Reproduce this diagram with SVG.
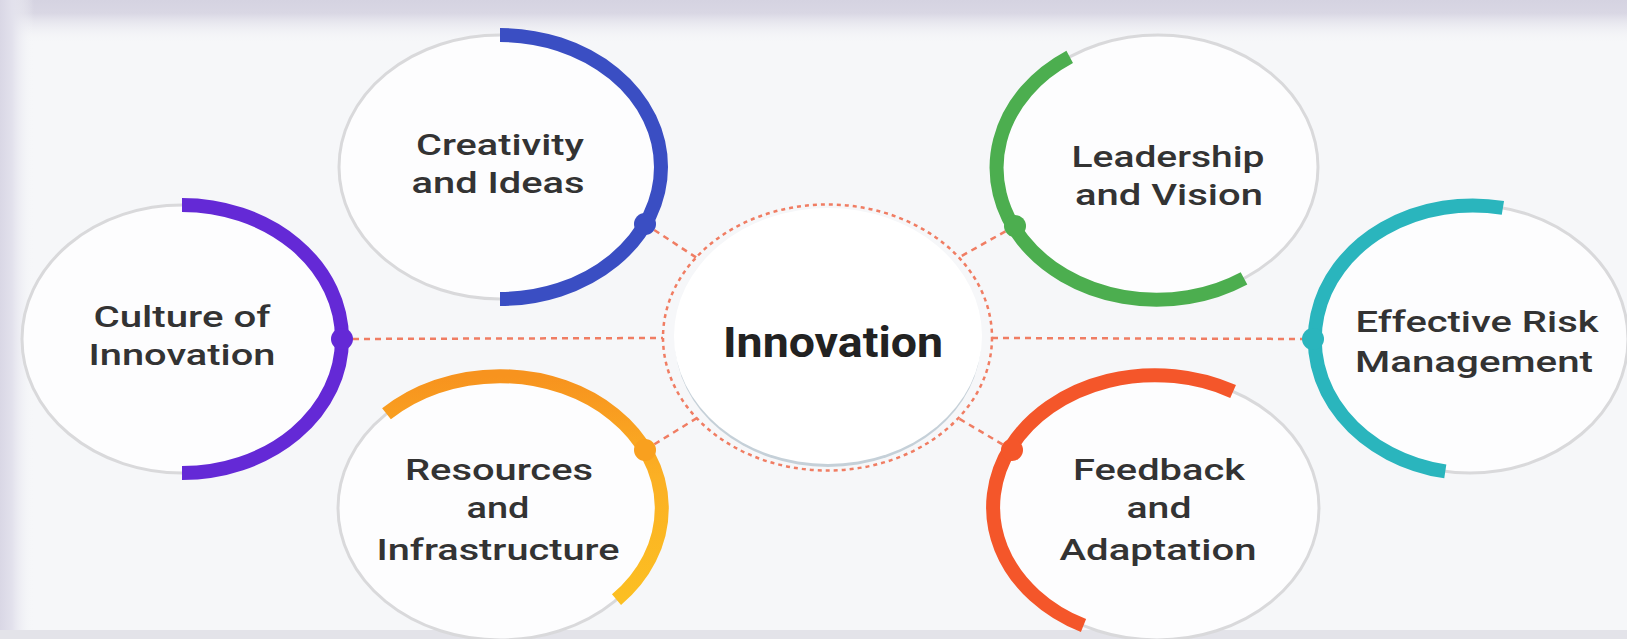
<svg xmlns="http://www.w3.org/2000/svg" width="1627" height="639" viewBox="0 0 1627 639">
<defs>
<linearGradient id="topg" x1="0" y1="0" x2="0" y2="1"><stop offset="0" stop-color="#d5d3e1"/><stop offset="0.3" stop-color="#d9d7e4"/><stop offset="1" stop-color="#f6f7f9" stop-opacity="0"/></linearGradient>
<linearGradient id="leftg" x1="0" y1="0" x2="1" y2="0"><stop offset="0" stop-color="#d9d7e5"/><stop offset="0.35" stop-color="#e2e1ec"/><stop offset="1" stop-color="#f6f7f9" stop-opacity="0"/></linearGradient>
<linearGradient id="orangeg" x1="0" y1="0" x2="0" y2="1"><stop offset="0" stop-color="#f7931e"/><stop offset="0.45" stop-color="#fbb024"/><stop offset="1" stop-color="#fcbf22"/></linearGradient>
<linearGradient id="shadowg" x1="0" y1="0" x2="0" y2="1"><stop offset="0.6" stop-color="#ffffff" stop-opacity="0"/><stop offset="1" stop-color="#b9c6cf"/></linearGradient>
<style>
.ring{fill:#fdfdfe;stroke:#d9d9db;stroke-width:3}
.arc{fill:none;stroke-width:14;stroke-linecap:butt}
.lbl{font-family:Roboto,"Liberation Sans",Arial,sans-serif;font-weight:500;font-size:30px;fill:#333333;text-anchor:middle}
.conn{stroke:#f07d63;stroke-width:2.5;stroke-dasharray:6 5;fill:none}
</style>
</defs>
<rect x="0" y="0" width="1627" height="639" fill="#f6f7f9"/>
<rect x="0" y="0" width="1627" height="44" fill="url(#topg)"/>
<rect x="0" y="0" width="34" height="639" fill="url(#leftg)"/>
<rect x="0" y="630" width="1627" height="9" fill="#e3e3e9"/>

<g id="connectors">
<line class="conn" x1="342" y1="339" x2="663" y2="338"/>
<line class="conn" x1="992" y1="338" x2="1313" y2="339"/>
<line class="conn" x1="645" y1="224" x2="697" y2="258"/>
<line class="conn" x1="1015" y1="226" x2="958" y2="258"/>
<line class="conn" x1="645" y1="450" x2="697" y2="418"/>
<line class="conn" x1="1012" y1="450" x2="958" y2="418"/>
</g>

<g id="center">
<ellipse cx="828" cy="340" rx="153" ry="127" fill="#c5d0d8"/>
<ellipse cx="828" cy="336" rx="154" ry="128" fill="#ffffff"/>
<ellipse cx="827.5" cy="337.5" rx="164.5" ry="133" fill="none" stroke="#f07d63" stroke-width="2.5" stroke-dasharray="4 4"/>
<text x="833" y="357" font-family="Roboto,'Liberation Sans',Arial,sans-serif" font-weight="700" font-size="42" fill="#222222" text-anchor="middle" textLength="220" lengthAdjust="spacingAndGlyphs">Innovation</text>
</g>

<g id="creativity">
<ellipse class="ring" cx="500" cy="167" rx="161" ry="132"/>
<path class="arc" stroke="#3a4ec3" d="M500,35 A161,132 0 0 1 500,299"/>
<circle cx="645" cy="224" r="11" fill="#3a4ec3"/>
<text class="lbl" x="500" y="155" textLength="168" lengthAdjust="spacingAndGlyphs">Creativity</text>
<text class="lbl" x="498" y="193" textLength="173" lengthAdjust="spacingAndGlyphs">and Ideas</text>
</g>

<g id="culture">
<ellipse class="ring" cx="182" cy="339" rx="160" ry="134"/>
<path class="arc" stroke="#6429d6" d="M182,205 A160,134 0 0 1 182,473"/>
<circle cx="342" cy="339" r="11" fill="#6429d6"/>
<text class="lbl" x="182" y="327" textLength="177" lengthAdjust="spacingAndGlyphs">Culture of</text>
<text class="lbl" x="182" y="365" textLength="187" lengthAdjust="spacingAndGlyphs">Innovation</text>
</g>

<g id="resources">
<ellipse class="ring" cx="500" cy="508" rx="162" ry="132"/>
<path class="arc" stroke="url(#orangeg)" d="M386.5,413.8 A162,132 0 0 1 616.5,599.7"/>
<circle cx="645" cy="450" r="11" fill="#f9a01f"/>
<text class="lbl" x="499" y="480" textLength="188" lengthAdjust="spacingAndGlyphs">Resources</text>
<text class="lbl" x="498" y="518" textLength="63" lengthAdjust="spacingAndGlyphs">and</text>
<text class="lbl" x="498" y="560" textLength="243" lengthAdjust="spacingAndGlyphs">Infrastructure</text>
</g>

<g id="leadership">
<ellipse class="ring" cx="1158" cy="167" rx="160" ry="132"/>
<path class="arc" stroke="#4cae4f" d="M1069.7,56.9 A160,132 0 1 0 1244,278.3"/>
<circle cx="1015" cy="226" r="11" fill="#4cae4f"/>
<text class="lbl" x="1168" y="167" textLength="193" lengthAdjust="spacingAndGlyphs">Leadership</text>
<text class="lbl" x="1169" y="205" textLength="188" lengthAdjust="spacingAndGlyphs">and Vision</text>
</g>

<g id="risk">
<ellipse class="ring" cx="1470" cy="339" rx="158" ry="134"/>
<path class="arc" stroke="#2ab5bd" d="M1502.9,207.9 A158,134 0 1 0 1445.3,471.4"/>
<circle cx="1313" cy="339" r="11" fill="#2ab5bd"/>
<text class="lbl" x="1477" y="332" textLength="243" lengthAdjust="spacingAndGlyphs">Effective Risk</text>
<text class="lbl" x="1474" y="372" textLength="238" lengthAdjust="spacingAndGlyphs">Management</text>
</g>

<g id="feedback">
<ellipse class="ring" cx="1157" cy="508" rx="162" ry="132"/>
<path class="arc" stroke="#f4562a" d="M1233.1,391.5 A162,132 0 1 0 1083.5,625.6"/>
<circle cx="1012" cy="450" r="11" fill="#f4562a"/>
<text class="lbl" x="1159" y="480" textLength="172" lengthAdjust="spacingAndGlyphs">Feedback</text>
<text class="lbl" x="1159" y="518" textLength="65" lengthAdjust="spacingAndGlyphs">and</text>
<text class="lbl" x="1158" y="560" textLength="197" lengthAdjust="spacingAndGlyphs">Adaptation</text>
</g>
</svg>
